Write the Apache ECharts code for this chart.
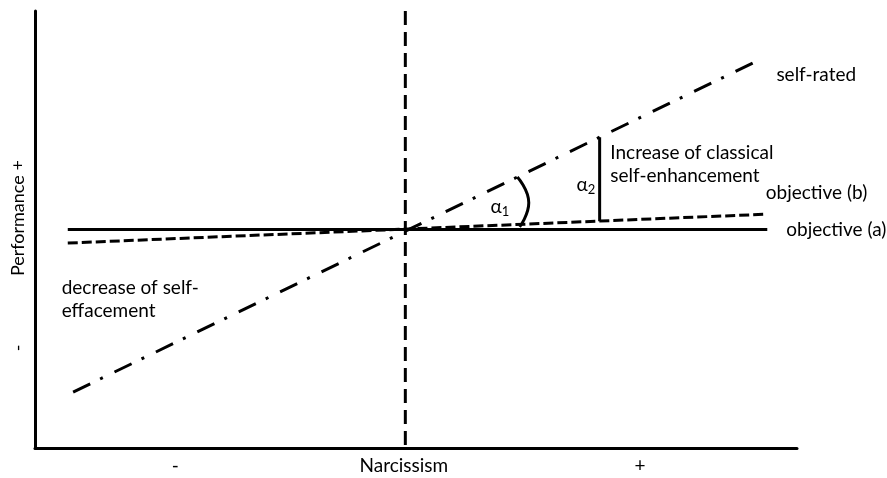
<!DOCTYPE html>
<html>
<head>
<meta charset="utf-8">
<script src="https://cdn.jsdelivr.net/npm/echarts@6/dist/echarts.min.js"></script>
<style>
  html, body { margin: 0; padding: 0; background: #fff; }
  #chart { width: 887px; height: 478px; }
</style>
</head>
<body>
<div id="chart"></div>
<script>
// conceptual diagram, both axes run 0..100
const selfRated  = [[5, 12.8], [94.8, 88.6]];
const objectiveA = [[4.3, 50], [96.1, 50]];
const objectiveB = [[4.3, 46.9], [95.9, 53.5]];
const midline    = [[48.6, 100], [48.6, 0.7]];
const alpha1Arc  = [[63.3, 62.0], [64.8, 56.1], [63.6, 50.6]];
const alpha2Line = [[74.1, 51.9], [74.1, 71.1]];

const xTicks = [18.4, 48.4, 79.4];
const xTickLabels = ["-", "Narcissism", "+"];
const yTicks = [22.9, 52.6];
const yTickLabels = ["-", "Performance +"];

const notes = [
    { name: "decrease of self-\neffacement", value: [3.5, 34.1] },
    { name: "Increase of classical\nself-enhancement", value: [75.5, 64.8] }
];
const alphaNotes = [
    { name: "1", value: [61.0, 55.1] },
    { name: "2", value: [72.3, 60.2] }
];

(function () {
    const dom = document.getElementById("chart");
    const chart = echarts.init(dom, null, { renderer: "canvas" });

    const FONT = "Lato, 'DejaVu Sans', sans-serif";
    const INK = "#000";

    const pick = (ticks, labels) => (v) => {
        let best = 0;
        ticks.forEach((t, i) => { if (Math.abs(t - v) < Math.abs(ticks[best] - v)) best = i; });
        return labels[best];
    };

    const axisBase = {
        type: "value",
        min: 0,
        max: 100,
        axisLine: { show: true, lineStyle: { color: INK, width: 3 } },
        axisTick: { show: false },
        splitLine: { show: false }
    };

    const plain = (data, type, width) => ({
        type: "line",
        data: data,
        showSymbol: false,
        symbol: "none",
        silent: true,
        lineStyle: { color: INK, width: width || 3, type: type || "solid", cap: "butt" }
    });

    const endLabel = (text, offset) => ({
        show: true,
        formatter: text,
        distance: 0,
        offset: offset,
        color: INK,
        fontSize: 19,
        fontFamily: FONT
    });

    // invisible scatter points that only carry text
    const textOnly = {
        type: "scatter",
        symbolSize: 0,
        silent: true,
        itemStyle: { opacity: 1, color: "transparent" }
    };

    chart.setOption({
        animation: false,
        backgroundColor: "#fff",
        grid: { left: 35, right: 90, top: 11, bottom: 30 },
        xAxis: Object.assign({}, axisBase, {
            axisLabel: {
                customValues: xTicks,
                formatter: pick(xTicks, xTickLabels),
                color: INK,
                fontSize: 19,
                fontFamily: FONT,
                margin: 8
            }
        }),
        yAxis: Object.assign({}, axisBase, {
            axisLabel: {
                customValues: yTicks,
                formatter: pick(yTicks, yTickLabels),
                rotate: 90,
                color: INK,
                fontSize: 18,
                fontFamily: FONT,
                margin: 8
            }
        }),
        series: [
            Object.assign(plain(midline, [14, 7]), { name: "mid" }),
            Object.assign(plain(objectiveA), { name: "objective (a)", endLabel: endLabel("objective (a)", [19, 0]) }),
            Object.assign(plain(objectiveB, [10, 4]), { name: "objective (b)", endLabel: endLabel("objective (b)", [0, -21]) }),
            Object.assign(plain(selfRated, [19, 11, 3, 13]), { name: "self-rated", endLabel: endLabel("self-rated", [19, 14]) }),
            Object.assign(plain(alpha1Arc), { name: "alpha1", smooth: true }),
            Object.assign(plain(alpha2Line), { name: "alpha2" }),
            Object.assign({}, textOnly, {
                name: "notes",
                data: notes,
                label: {
                    show: true,
                    position: "right",
                    distance: 0,
                    align: "left",
                    formatter: "{b}",
                    color: INK,
                    fontSize: 19,
                    lineHeight: 23,
                    fontFamily: FONT
                }
            }),
            Object.assign({}, textOnly, {
                name: "alphas",
                data: alphaNotes,
                label: {
                    show: true,
                    position: "inside",
                    formatter: "{a|α}{s|{b}}",
                    rich: {
                        a: { fontSize: 19, lineHeight: 22, color: INK, fontFamily: FONT },
                        s: { fontSize: 13, lineHeight: 10, verticalAlign: "bottom", color: INK, fontFamily: FONT }
                    }
                }
            })
        ]
    });

    window.addEventListener("resize", () => chart.resize());
})();
</script>
</body>
</html>
